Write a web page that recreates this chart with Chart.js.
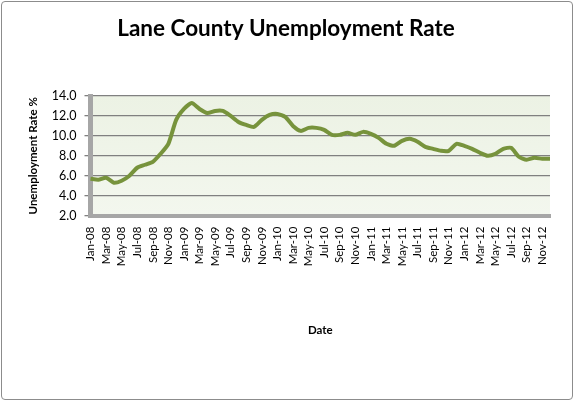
<!DOCTYPE html>
<html>
<head>
<meta charset="utf-8">
<script src="https://cdn.jsdelivr.net/npm/chart.js@4.4.1/dist/chart.umd.min.js"></script>
<style>
  html, body { margin: 0; padding: 0; background: #fff; }
  #box {
    position: absolute; left: 1px; top: 1px;
    width: 570px; height: 397px;
    border: 1px solid #8c8c8c; border-radius: 4px;
    background: #fff;
  }
</style>
</head>
<body>
<div id="box"><canvas id="rateChart"></canvas></div>
<script>
// months Jan-08 .. Dec-12
var months = ["Jan-08","Feb-08","Mar-08","Apr-08","May-08","Jun-08","Jul-08","Aug-08","Sep-08","Oct-08","Nov-08","Dec-08",
              "Jan-09","Feb-09","Mar-09","Apr-09","May-09","Jun-09","Jul-09","Aug-09","Sep-09","Oct-09","Nov-09","Dec-09",
              "Jan-10","Feb-10","Mar-10","Apr-10","May-10","Jun-10","Jul-10","Aug-10","Sep-10","Oct-10","Nov-10","Dec-10",
              "Jan-11","Feb-11","Mar-11","Apr-11","May-11","Jun-11","Jul-11","Aug-11","Sep-11","Oct-11","Nov-11","Dec-11",
              "Jan-12","Feb-12","Mar-12","Apr-12","May-12","Jun-12","Jul-12","Aug-12","Sep-12","Oct-12","Nov-12","Dec-12"];

// unemployment rate %
var rate2008 = [5.7, 5.6, 5.8, 5.3, 5.5, 6.0, 6.8, 7.1, 7.4, 8.2, 9.2, 11.6];
var rate2009 = [12.7, 13.3, 12.7, 12.3, 12.5, 12.5, 12.0, 11.4, 11.1, 10.9, 11.6, 12.1];
var rate2010 = [12.2, 11.9, 11.0, 10.5, 10.8, 10.8, 10.6, 10.1, 10.1, 10.3, 10.1, 10.4];
var rate2011 = [10.2, 9.8, 9.2, 9.0, 9.5, 9.7, 9.4, 8.9, 8.7, 8.5, 8.5, 9.2];
var rate2012 = [9.0, 8.7, 8.3, 8.0, 8.2, 8.7, 8.8, 7.9, 7.6, 7.8, 7.7, 7.7];

var yMin = 2, yMax = 14, yStep = 2;

var rates = rate2008.concat(rate2009, rate2010, rate2011, rate2012);

// light green plot background
var plotBackground = {
    id: 'plotBackground',
    beforeDraw: function (chart) {
        var a = chart.chartArea;
        var ctx = chart.ctx;
        var g = ctx.createLinearGradient(0, a.top, 0, a.bottom);
        g.addColorStop(0, '#ecf2e4');
        g.addColorStop(1, '#f3f7ee');
        ctx.save();
        ctx.fillStyle = g;
        ctx.fillRect(a.left, a.top, a.right - a.left, a.bottom - a.top);
        ctx.restore();
    }
};

var ctx = document.getElementById('rateChart').getContext('2d');
var rateChart = new Chart(ctx, {
    type: 'line',
    data: {
        labels: months,
        datasets: [{
            label: 'Unemployment Rate',
            data: rates,
            borderColor: '#77933c',
            borderWidth: 4,
            pointRadius: 0,
            tension: 0.2,
            fill: false
        }]
    },
    options: {
        responsive: true,
        maintainAspectRatio: false,
        animation: false,
        layout: { padding: { left: 20, right: 22, top: 8, bottom: 58 } },
        plugins: {
            legend: { display: false },
            tooltip: { enabled: false },
            title: {
                display: true,
                text: 'Lane County Unemployment Rate',
                color: '#000',
                font: { family: 'Lato', size: 22.5, weight: 'bold' },
                padding: { top: 5, bottom: 54 }
            }
        },
        scales: {
            x: {
                grid: { display: false, drawTicks: true },
                border: { color: '#a6a6a6', width: 4 },
                ticks: {
                    autoSkip: false,
                    maxRotation: 90,
                    minRotation: 90,
                    color: '#000',
                    font: { family: 'Lato', size: 11.5 },
                    callback: function (v, i) { return i % 2 === 0 ? months[i] : ''; }
                },
                title: {
                    display: true,
                    text: 'Date',
                    color: '#000',
                    font: { family: 'Lato', size: 11.5, weight: 'bold' },
                    padding: { top: 54 }
                }
            },
            y: {
                min: yMin,
                max: yMax,
                grid: { color: '#808080', lineWidth: 1.3, tickColor: '#808080', tickLength: 6 },
                border: { color: '#a6a6a6', width: 5 },
                ticks: {
                    stepSize: yStep,
                    padding: 8,
                    color: '#000',
                    font: { family: 'Lato', size: 12.5 },
                    callback: function (v) { return v.toFixed(1); }
                },
                title: {
                    display: true,
                    text: 'Unemployment Rate %',
                    color: '#000',
                    font: { family: 'Lato', size: 11.5, weight: 'bold' },
                    padding: { bottom: 4 }
                }
            }
        }
    },
    plugins: [plotBackground]
});
</script>
</body>
</html>
